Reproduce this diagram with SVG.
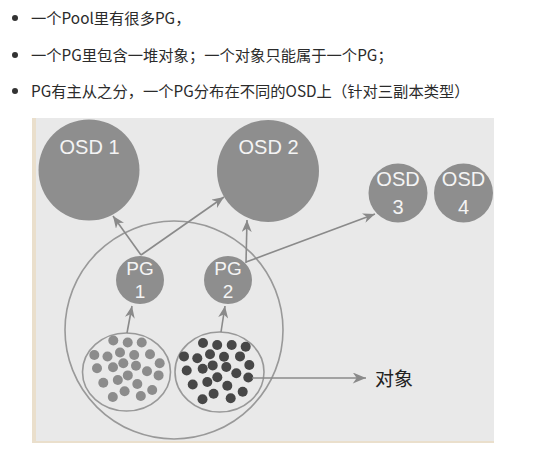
<svg xmlns="http://www.w3.org/2000/svg" width="544" height="461" viewBox="0 0 544 461">
<defs>
<style>
.bt{font-family:"Noto Sans CJK SC","Noto Sans",sans-serif;font-size:15.3px;fill:#2b2b2b}
.osd{fill:#8e8e8e}
.lbl{font-family:"Liberation Sans",Arial,sans-serif;font-size:20px;fill:#f4f4f4;text-anchor:middle}
.con{stroke:#8a8a8a;stroke-width:1.6;fill:none}
.grp{stroke:#999;stroke-width:1.6;fill:none}
.lt circle{fill:#8c8c8c}
.dk circle{fill:#474747}
</style>
<marker id="ah" viewBox="0 0 12 10" refX="12" refY="5" markerWidth="12" markerHeight="10" markerUnits="userSpaceOnUse" orient="auto">
<path d="M0,0 L12,5 L0,10 L3.5,5 z" fill="#8a8a8a"/>
</marker>
<marker id="ah2" viewBox="0 0 12 10" refX="12" refY="5" markerWidth="16" markerHeight="11" markerUnits="userSpaceOnUse" orient="auto">
<path d="M0,0 L12,5 L0,10 L3.5,5 z" fill="#8a8a8a"/>
</marker>
</defs>
<rect width="544" height="461" fill="#fff"/>
<g id="bullets">
<circle cx="15" cy="18" r="3" fill="#333"/>
<text class="bt" x="31" y="24">一个Pool里有很多PG，</text>
<circle cx="15" cy="55" r="3" fill="#333"/>
<text class="bt" x="31" y="61">一个PG里包含一堆对象；一个对象只能属于一个PG；</text>
<circle cx="15" cy="91" r="3" fill="#333"/>
<text class="bt" x="31" y="97">PG有主从之分，一个PG分布在不同的OSD上（针对三副本类型）</text>
</g>
<g id="panel">
<rect x="32" y="118" width="462" height="325" fill="#eadfcc"/>
<rect x="36" y="118" width="458" height="323" fill="#e9e9e9"/>
</g>
<g id="pool">
<circle class="grp" cx="174" cy="330" r="109"/>
</g>
<g id="osd1"><circle class="osd" cx="89" cy="170" r="50.5"/><text class="lbl" x="89.5" y="154">OSD 1</text></g>
<g id="osd2"><circle class="osd" cx="268" cy="171" r="51"/><text class="lbl" x="268.5" y="154">OSD 2</text></g>
<g id="osd3"><circle class="osd" cx="398" cy="193" r="29.5"/><text class="lbl" x="398" y="186">OSD</text><text class="lbl" x="398" y="214">3</text></g>
<g id="osd4"><circle class="osd" cx="463.5" cy="193" r="29.5"/><text class="lbl" x="463.5" y="186">OSD</text><text class="lbl" x="463.5" y="214">4</text></g>
<g id="pg1"><circle class="osd" cx="140" cy="280" r="24"/><text class="lbl" x="140" y="275" style="font-size:19px">PG</text><text class="lbl" x="140" y="298" style="font-size:19px">1</text></g>
<g id="pg2"><circle class="osd" cx="228" cy="280" r="24"/><text class="lbl" x="228" y="275" style="font-size:19px">PG</text><text class="lbl" x="228" y="298" style="font-size:19px">2</text></g>
<g id="objects1">
<ellipse class="grp" cx="126.5" cy="372" rx="44" ry="39"/>
<g class="lt">
<circle cx="113.3" cy="340.5" r="5"/><circle cx="127.7" cy="342.5" r="5"/><circle cx="141.7" cy="342.5" r="5"/>
<circle cx="94.3" cy="355" r="5"/><circle cx="107.5" cy="356.5" r="5"/><circle cx="120" cy="352.5" r="5"/><circle cx="134.2" cy="355" r="5"/><circle cx="150" cy="354.2" r="5"/>
<circle cx="97" cy="368.3" r="5"/><circle cx="113" cy="367.3" r="5"/><circle cx="123.3" cy="363.3" r="5"/><circle cx="136" cy="365.7" r="5"/><circle cx="159.7" cy="363.3" r="5"/>
<circle cx="127.8" cy="375.4" r="5"/><circle cx="147" cy="371.3" r="5"/><circle cx="158.6" cy="375.4" r="5"/>
<circle cx="103.3" cy="382.7" r="5"/><circle cx="117.8" cy="380" r="5"/><circle cx="137.3" cy="384" r="5"/><circle cx="152.2" cy="390" r="5"/>
<circle cx="124.6" cy="391.2" r="5"/><circle cx="112.8" cy="397" r="5"/><circle cx="140.8" cy="396" r="5"/>
</g>
</g>
<g id="objects2">
<ellipse class="grp" cx="219.5" cy="372" rx="44.5" ry="40"/>
<g class="dk">
<circle cx="203" cy="343" r="5"/><circle cx="217.2" cy="345" r="5"/><circle cx="231.7" cy="345" r="5"/><circle cx="245.7" cy="346.7" r="5"/>
<circle cx="184" cy="356.4" r="5"/><circle cx="197.3" cy="358.3" r="5"/><circle cx="210" cy="354.3" r="5"/><circle cx="224" cy="356.7" r="5"/><circle cx="240" cy="356.4" r="5"/>
<circle cx="186.7" cy="370.5" r="5"/><circle cx="202.7" cy="368.7" r="5"/><circle cx="212.7" cy="365.4" r="5"/><circle cx="226.3" cy="367" r="5"/><circle cx="249.3" cy="365" r="5"/>
<circle cx="217.3" cy="377.2" r="5"/><circle cx="236.3" cy="373.3" r="5"/><circle cx="248.3" cy="377.5" r="5"/>
<circle cx="192.7" cy="384.5" r="5"/><circle cx="207.3" cy="382" r="5"/><circle cx="227.3" cy="385.8" r="5"/><circle cx="242.7" cy="391.7" r="5"/>
<circle cx="213.6" cy="393.7" r="5"/><circle cx="202.5" cy="399.3" r="5"/><circle cx="230.7" cy="398.3" r="5"/>
</g>
</g>
<g id="connectors">
<line class="con" x1="127" y1="333" x2="132" y2="306" marker-end="url(#ah)"/>
<line class="con" x1="221" y1="332" x2="225" y2="306" marker-end="url(#ah)"/>
<line class="con" x1="141" y1="255" x2="113" y2="216" marker-end="url(#ah)"/>
<line class="con" x1="141" y1="255" x2="224" y2="197" marker-end="url(#ah)"/>
<line class="con" x1="246" y1="263" x2="247" y2="220" marker-end="url(#ah)"/>
<line class="con" x1="246" y1="262" x2="375" y2="214" marker-end="url(#ah)"/>
<line class="con" x1="252" y1="378" x2="366" y2="378" marker-end="url(#ah2)"/>
</g>
<g id="label-objects">
<text x="375" y="386" style="font-family:'Noto Sans CJK SC',sans-serif;font-size:19px;fill:#222">对象</text>
</g>
</svg>
